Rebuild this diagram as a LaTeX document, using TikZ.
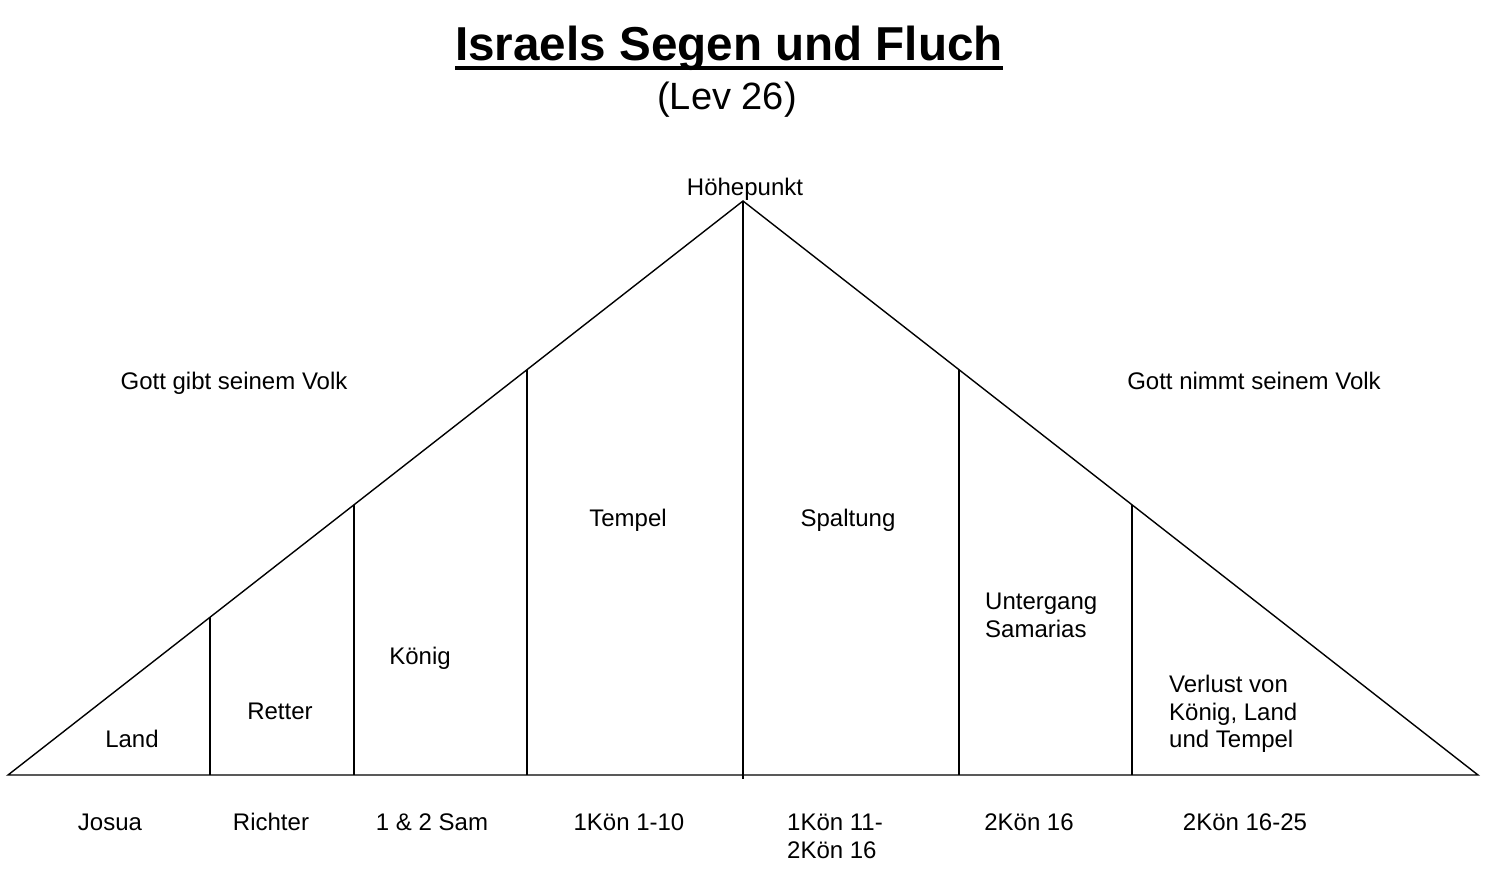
\documentclass[tikz,border=0pt]{standalone}
\usepackage{fontspec}
\setmainfont{Liberation Sans}
\usetikzlibrary{calc}
\begin{document}
\begin{tikzpicture}[x=1pt,y=-1pt,
  lbl/.style={inner sep=0pt, font=\fontsize{24}{27.5}\selectfont, anchor=base},
  ml/.style={lbl, align=left, anchor=base west},
  ln/.style={line width=1.4pt, line cap=butt}]
\useasboundingbox (0,0) rectangle (1485,883);
\fill[white] (0,0) rectangle (1485,883);
% title
\node[inner sep=0pt, anchor=base, font=\fontsize{47.6}{50}\selectfont\bfseries] (title) at (729,60.5) {Israels Segen und Fluch};
\draw[line width=4pt] ([yshift=-7.5pt]title.base west) -- ([yshift=-7.5pt]title.base east);
\node[inner sep=0pt, anchor=base, font=\fontsize{38}{40}\selectfont] (lev) at (727,109) {(Lev 26)};
% triangle
\coordinate (L) at (8,775);
\coordinate (R) at (1478,775);
\coordinate (A) at (743,201);
\coordinate (C) at (743,779);
\draw[ln] (L) -- (A) -- (R) -- cycle;
\draw[ln] (A) -- (C);
\coordinate (t1) at ($(L)!0.2748!(A)$);
\coordinate (t2) at ($(L)!0.4707!(A)$);
\coordinate (t3) at ($(L)!0.7061!(A)$);
\coordinate (t4) at ($(A)!0.2939!(R)$);
\coordinate (t5) at ($(A)!0.5293!(R)$);
\foreach \t in {t1,t2,t3,t4,t5}{
  \draw[ln] (\t) -- (\t |- L);
}
% labels
\node[lbl] (hoehe) at (745,195.5) {Höhepunkt};
\node[lbl] (gibt) at (234,389.5) {Gott gibt seinem Volk};
\node[lbl] (nimmt) at (1254,389.5) {Gott nimmt seinem Volk};
\node[lbl] (land) at (132,747.5) {Land};
\node[lbl] (retter) at (280,719.5) {Retter};
\node[lbl] (koenig) at (420,664.5) {König};
\node[lbl] (tempel) at (628,526.5) {Tempel};
\node[lbl] (spalt) at (848,526.5) {Spaltung};
\node[ml] (unter) at (985,637) {Untergang\\Samarias};
\node[ml] (verlust) at (1169,747.5) {Verlust von\\König, Land\\und Tempel};
% bottom
\node[lbl] (josua) at (110,830.5) {Josua};
\node[lbl] (richter) at (271,830.5) {Richter};
\node[lbl] (sam) at (432,830.5) {1 \& 2 Sam};
\node[lbl] (koen1) at (629,830.5) {1Kön 1-10};
\node[ml] (koen2) at (787,858) {1Kön 11-\\2Kön 16};
\node[lbl] (koen3) at (1029,830.5) {2Kön 16};
\node[lbl] (koen4) at (1245,830.5) {2Kön 16-25};
\end{tikzpicture}
\end{document}
